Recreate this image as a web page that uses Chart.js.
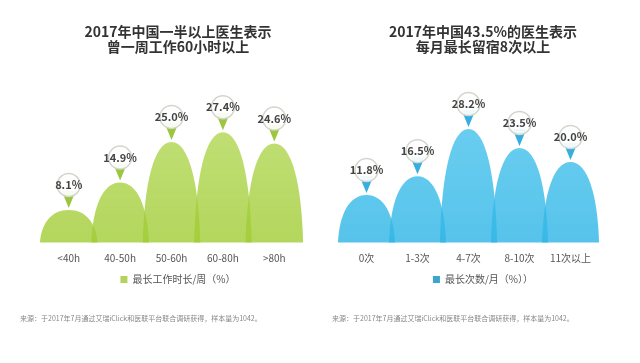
<!DOCTYPE html>
<html>
<head>
<meta charset="utf-8">
<script src="https://cdn.jsdelivr.net/npm/chart.js"></script>
<style>
  body { margin: 0; background: #fff; }
  .box { position: absolute; top: 0; height: 363px; }
</style>
</head>
<body>
<div class="box" style="left:0;width:336px"><canvas id="hours" width="336" height="363"></canvas></div>
<div class="box" style="left:320px;width:320px"><canvas id="nights" width="320" height="363"></canvas></div>
<script>
// data
const hoursLabels = ['<40h', '40-50h', '50-60h', '60-80h', '>80h'];
const hoursValues = [8.1, 14.9, 25.0, 27.4, 24.6];
const nightLabels = ['0次', '1-3次', '4-7次', '8-10次', '11次以上'];
const nightValues = [11.8, 16.5, 28.2, 23.5, 20.0];

const hoursTitle = ['2017年中国一半以上医生表示', '曾一周工作60小时以上'];
const nightTitle = ['2017年中国43.5%的医生表示', '每月最长留宿8次以上'];
const hoursLegend = '最长工作时长/周（%）';
const nightLegend = '最长次数/月（%））';
const sourceText = '来源：于2017年7月通过艾瑞iClick和医联平台联合调研获得，样本量为1042。';

const FONT = "'Noto Sans CJK SC', 'Noto Sans', sans-serif";

// draws the overlapping humps instead of plain bars
const humps = {
  id: 'humps',
  beforeDatasetDraw(chart, args) {
    const ctx = chart.ctx;
    const area = chart.chartArea;
    const c = chart.options.plugins.humps;
    const grad = ctx.createLinearGradient(0, area.top, 0, area.bottom);
    grad.addColorStop(0, c.top);
    grad.addColorStop(1, c.bottom);
    ctx.save();
    args.meta.data.forEach(bar => {
      const p = bar.getProps(['x', 'y', 'base', 'width'], true);
      const w = p.width * 0.56;
      const h = p.base - p.y;
      ctx.beginPath();
      ctx.moveTo(p.x - w, p.base);
      ctx.bezierCurveTo(p.x - w * 0.95, p.base - h * 0.6, p.x - w * 0.6, p.y, p.x, p.y);
      ctx.bezierCurveTo(p.x + w * 0.6, p.y, p.x + w * 0.95, p.base - h * 0.6, p.x + w, p.base);
      ctx.closePath();
      ctx.fillStyle = grad;
      ctx.fill();
    });
    ctx.restore();
    return false;
  },
  afterDatasetsDraw(chart) {
    const ctx = chart.ctx;
    const c = chart.options.plugins.humps;
    const values = chart.data.datasets[0].data;
    ctx.save();
    chart.getDatasetMeta(0).data.forEach((bar, i) => {
      const x = bar.x, y = bar.y;
      const cy = y - 25;
      // pin tail
      ctx.beginPath();
      ctx.moveTo(x - 7, cy + 6);
      ctx.lineTo(x + 7, cy + 6);
      ctx.lineTo(x, y - 2);
      ctx.closePath();
      ctx.fillStyle = c.pin;
      ctx.fill();
      // pin head
      ctx.beginPath();
      ctx.arc(x, cy, 11.5, 0, Math.PI * 2);
      ctx.fillStyle = 'rgba(255,255,255,0.92)';
      ctx.fill();
      ctx.lineWidth = 1.5;
      ctx.strokeStyle = '#d2d6cc';
      ctx.stroke();
      ctx.fillStyle = '#444';
      ctx.font = 'bold 11px ' + FONT;
      ctx.textAlign = 'center';
      ctx.textBaseline = 'middle';
      ctx.fillText(values[i].toFixed(1) + '%', x, cy);
    });
    ctx.restore();
  }
};

function makeChart(id, labels, values, title, legendText, colors, pad, leftW, rightW) {
  return new Chart(document.getElementById(id), {
    type: 'bar',
    data: {
      labels: labels,
      datasets: [{
        label: legendText,
        data: values,
        backgroundColor: colors.legend,
        borderWidth: 0,
        barPercentage: 1,
        categoryPercentage: 1
      }]
    },
    options: {
      responsive: false,
      animation: false,
      layout: { padding: pad },
      scales: {
        x: {
          grid: { display: false, drawTicks: false },
          border: { display: false },
          ticks: { color: '#555', padding: 10, font: { size: 10, family: FONT } },
          afterFit: s => { s.height = 24; }
        },
        y: {
          min: 0, max: 30,
          grid: { display: false, drawTicks: false },
          border: { display: false },
          ticks: { display: false },
          afterFit: s => { s.width = leftW; }
        },
        y2: {
          position: 'right',
          min: 0, max: 30,
          grid: { display: false, drawTicks: false },
          border: { display: false },
          ticks: { display: false },
          afterFit: s => { s.width = rightW; }
        }
      },
      plugins: {
        humps: colors,
        tooltip: { enabled: false },
        title: {
          display: true,
          text: title,
          color: '#333',
          font: { size: 14, weight: 'bold', family: FONT, lineHeight: 1.1 },
          padding: { top: 24, bottom: 67 }
        },
        legend: {
          position: 'bottom',
          labels: {
            boxWidth: 7, boxHeight: 7, padding: 8,
            color: '#555',
            font: { size: 10, family: FONT }
          }
        },
        subtitle: {
          display: true,
          position: 'bottom',
          align: 'start',
          text: sourceText,
          color: '#888',
          font: { size: 7, family: FONT },
          padding: { top: 20, bottom: 0 }
        }
      }
    },
    plugins: [humps]
  });
}

makeChart('hours', hoursLabels, hoursValues, hoursTitle, hoursLegend,
  { top: 'rgba(172,212,70,0.74)', bottom: 'rgba(160,204,52,0.8)', pin: '#9cc63e', legend: '#b5d35a' },
  { left: 20, right: 0, top: 0, bottom: 40 }, 23, 36);

makeChart('nights', nightLabels, nightValues, nightTitle, nightLegend,
  { top: 'rgba(64,192,236,0.78)', bottom: 'rgba(50,182,230,0.82)', pin: '#36afdf', legend: '#3aa6d0' },
  { left: 12, right: 6, top: 0, bottom: 40 }, 9, 38);
</script>
</body>
</html>
